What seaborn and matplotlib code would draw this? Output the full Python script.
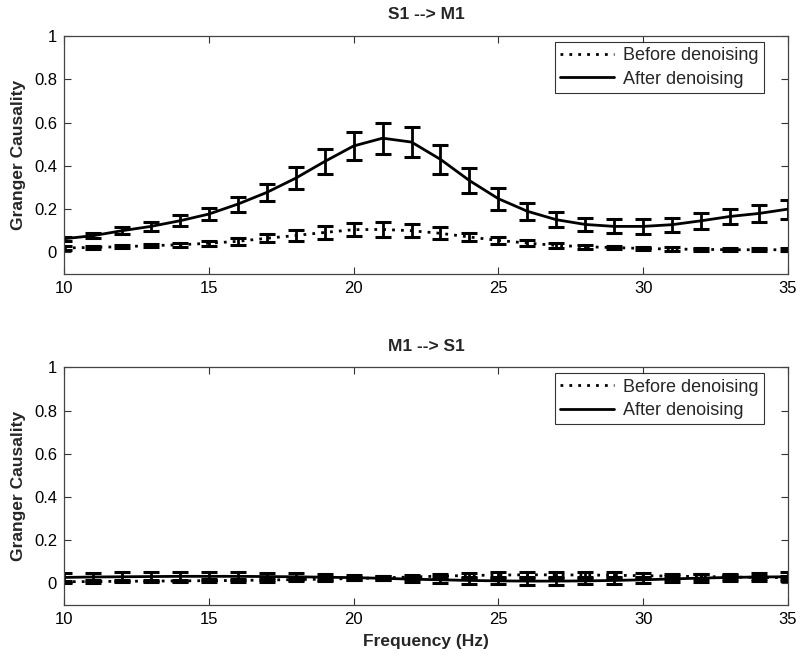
import numpy as np
import pandas as pd
import matplotlib
matplotlib.use("Agg")
import matplotlib.pyplot as plt
import seaborn as sns

freq = list(range(10, 36))

# S1 --> M1
before_s1m1 = [0.020, 0.023, 0.026, 0.031, 0.035, 0.042, 0.051, 0.065, 0.078, 0.092, 0.105, 0.106,
               0.100, 0.088, 0.071, 0.055, 0.043, 0.032, 0.026, 0.022, 0.018, 0.015, 0.014, 0.012,
               0.012, 0.012]
before_s1m1_err = [0.008, 0.008, 0.008, 0.008, 0.009, 0.012, 0.015, 0.018, 0.025, 0.028, 0.030, 0.034,
                   0.030, 0.027, 0.020, 0.015, 0.015, 0.010, 0.009, 0.008, 0.008, 0.008, 0.008, 0.008,
                   0.008, 0.008]
after_s1m1 = [0.063, 0.077, 0.100, 0.120, 0.146, 0.177, 0.223, 0.277, 0.343, 0.420, 0.492, 0.528,
              0.510, 0.430, 0.332, 0.248, 0.190, 0.151, 0.129, 0.120, 0.120, 0.128, 0.146, 0.166,
              0.180, 0.200]
after_s1m1_err = [0.010, 0.012, 0.015, 0.020, 0.025, 0.028, 0.035, 0.040, 0.050, 0.058, 0.065, 0.072,
                  0.070, 0.067, 0.058, 0.050, 0.040, 0.036, 0.028, 0.032, 0.033, 0.033, 0.036, 0.036,
                  0.040, 0.044]

# M1 --> S1
before_m1s1 = [0.008, 0.009, 0.010, 0.011, 0.012, 0.013, 0.014, 0.016, 0.018, 0.020, 0.023, 0.026,
               0.030, 0.034, 0.037, 0.039, 0.040, 0.040, 0.039, 0.038, 0.036, 0.034, 0.032, 0.030,
               0.028, 0.027]
before_m1s1_err = [0.005, 0.005, 0.005, 0.006, 0.006, 0.007, 0.007, 0.008, 0.008, 0.009, 0.009, 0.010,
                   0.011, 0.012, 0.013, 0.013, 0.013, 0.013, 0.013, 0.013, 0.012, 0.011, 0.010, 0.009,
                   0.008, 0.008]
after_m1s1 = [0.028, 0.030, 0.031, 0.032, 0.033, 0.033, 0.033, 0.032, 0.031, 0.029, 0.027, 0.024,
              0.020, 0.017, 0.014, 0.012, 0.011, 0.011, 0.012, 0.014, 0.017, 0.021, 0.025, 0.028,
              0.030, 0.031]
after_m1s1_err = [0.020, 0.020, 0.020, 0.020, 0.020, 0.019, 0.018, 0.017, 0.016, 0.014, 0.012, 0.009,
                  0.011, 0.013, 0.015, 0.016, 0.017, 0.017, 0.016, 0.015, 0.014, 0.015, 0.017, 0.018,
                  0.019, 0.020]

titles = ["S1 --> M1", "M1 --> S1"]
series_labels = ["Before denoising", "After denoising"]
xticks = [10, 15, 20, 25, 30, 35]
yticks = [0, 0.2, 0.4, 0.6, 0.8, 1]
ytick_labels = ["0", "0.2", "0.4", "0.6", "0.8", "1"]

sns.set_theme(style="white")
plt.rcParams['font.family'] = ['Liberation Sans', 'DejaVu Sans']

fig = plt.figure(figsize=(8.0, 6.57), dpi=100)
ax_top = fig.add_axes([0.080, 0.583, 0.905, 0.362])
ax_bot = fig.add_axes([0.080, 0.079, 0.905, 0.362])

panels = [
    (ax_top, titles[0], before_s1m1, before_s1m1_err, after_s1m1, after_s1m1_err),
    (ax_bot, titles[1], before_m1s1, before_m1s1_err, after_m1s1, after_m1s1_err),
]

for ax, title, b, be, a, ae in panels:
    df = pd.DataFrame({"freq": freq * 2,
                       "gc": b + a,
                       "series": [series_labels[0]] * len(freq) + [series_labels[1]] * len(freq)})
    sns.lineplot(data=df[df.series == series_labels[0]], x="freq", y="gc", ax=ax,
                 color="black", lw=2.0, linestyle=(0, (1, 2.2)), label=series_labels[0])
    sns.lineplot(data=df[df.series == series_labels[1]], x="freq", y="gc", ax=ax,
                 color="black", lw=2.0, linestyle="-", label=series_labels[1])
    ax.errorbar(freq, b, yerr=be, fmt="none", ecolor="black", elinewidth=2.0,
                capsize=6, capthick=2.2)
    ax.errorbar(freq, a, yerr=ae, fmt="none", ecolor="black", elinewidth=2.0,
                capsize=6, capthick=2.2)

    ax.set_xlim(10, 35)
    ax.set_ylim(-0.1, 1)
    ax.set_xticks(xticks)
    ax.set_xticklabels([str(t) for t in xticks])
    ax.set_yticks(yticks)
    ax.set_yticklabels(ytick_labels)
    ax.tick_params(direction="in", length=5, width=0.8, top=True, right=True,
                   bottom=True, left=True, labelsize=12, colors="#333333",
                   labelcolor="black", pad=5)
    for sp in ax.spines.values():
        sp.set_color("#444444")
        sp.set_linewidth(0.9)
    ax.set_title(title, fontsize=12.5, fontweight="bold", pad=12)
    ax.set_ylabel("Granger Causality", fontsize=12.5, fontweight="bold", labelpad=6)
    ax.set_xlabel("")
    leg = ax.legend(loc="upper right", bbox_to_anchor=(0.967, 0.975), borderaxespad=0,
                    fontsize=13, frameon=True, fancybox=False, edgecolor="black",
                    handlelength=3.0, handletextpad=0.5, borderpad=0.3,
                    labelspacing=0.35)
    leg.get_frame().set_linewidth(0.8)
    for ln in leg.get_lines():
        ln.set_linewidth(2.0)

ax_bot.set_xlabel("Frequency (Hz)", fontsize=12.5, fontweight="bold", labelpad=5)

fig.savefig("out.png", dpi=100)
